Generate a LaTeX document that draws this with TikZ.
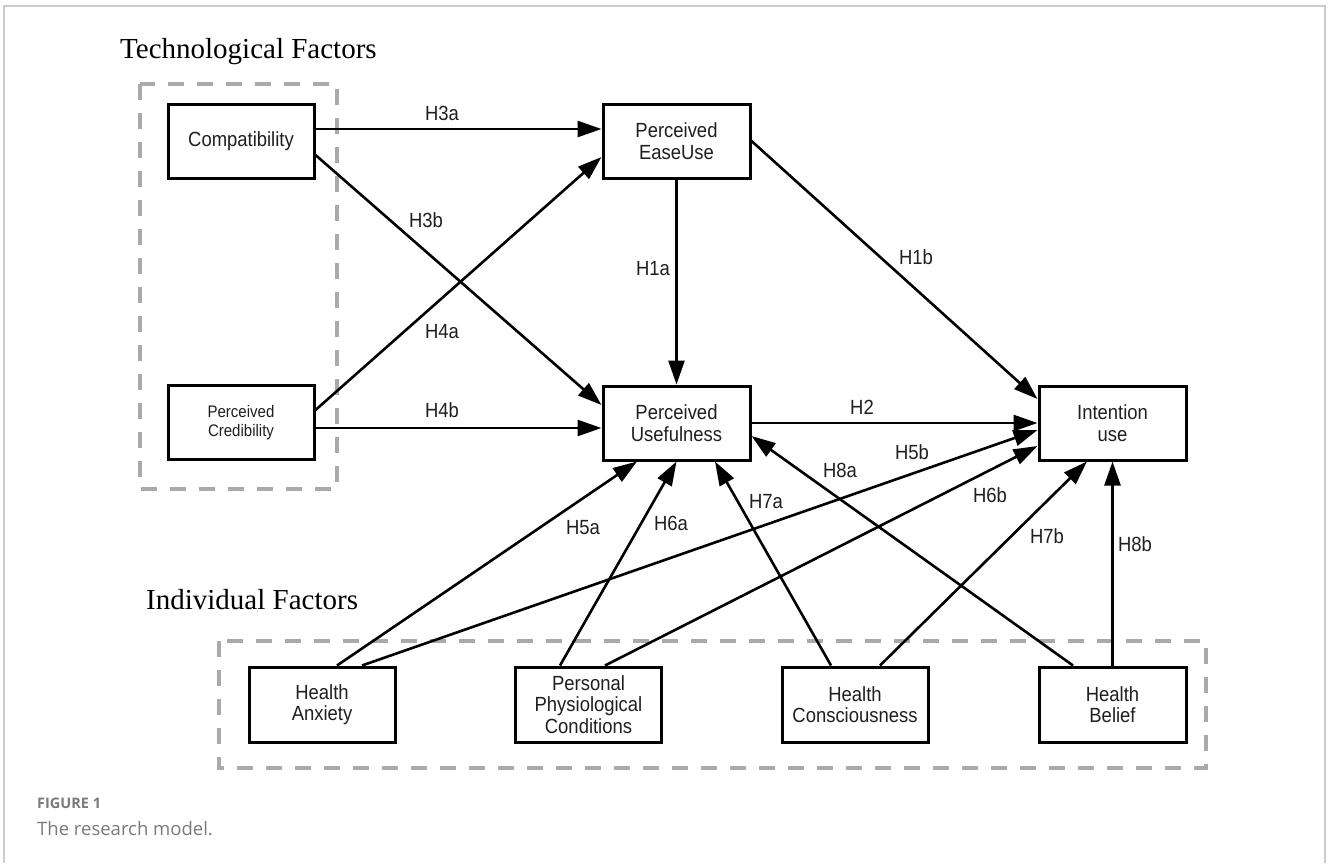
\documentclass[tikz,border=0pt]{standalone}
\usepackage{fontspec}
\setmainfont{Liberation Sans}
\newfontfamily\narrowfont[FakeStretch=0.9]{Liberation Sans}
\newfontfamily\titlefont{Liberation Serif}
\newfontfamily\capfont{Open Sans}
\usetikzlibrary{arrows.meta}
\definecolor{dashgray}{HTML}{AAAAAA}
\definecolor{framegray}{HTML}{CCCCCC}
\definecolor{capgray}{HTML}{7A7A7A}
\tikzset{
  boxnode/.style={draw=black, line width=3pt, minimum width=146pt, minimum height=74pt, inner sep=0pt, align=center, font=\narrowfont\fontsize{20.5}{21.5}\selectfont, text=black!88},
  conn/.style={line width=2.6pt, -{Triangle[length=24pt,width=16pt]}},
  hlab/.style={font=\narrowfont\fontsize{20.5}{22}\selectfont, inner sep=0pt, text=black!88},
  grouptitle/.style={font=\titlefont\fontsize{29}{32}\selectfont, anchor=west, inner sep=0pt},
  groupbox/.style={draw=dashgray, line width=4pt, dash pattern=on 16pt off 13pt}
}
\begin{document}
\begin{tikzpicture}[x=1pt,y=-1pt]
\useasboundingbox (0,0) rectangle (1328,863);
\fill[white] (0,0) rectangle (1328,863);
% outer frame
\draw[framegray, line width=1.5pt] (4,863) -- (4,6) -- (1325,6) -- (1325,863);

% group boxes
\draw[groupbox] (140,84) rectangle (337,489);
\draw[groupbox] (219,641) rectangle (1206,768);
\node[grouptitle] (ttech) at (120,52) {Technological Factors};
\node[grouptitle] (tind) at (146,600) {Individual Factors};

% nodes
\node[boxnode] (compat) at (241,141) {Compatibility};
\node[boxnode, font=\narrowfont\fontsize{16.7}{18.5}\selectfont] (cred) at (241,422.5) {Perceived\\Credibility};
\node[boxnode, minimum width=147pt] (peou) at (676.5,141) {Perceived\\EaseUse};
\node[boxnode, minimum width=147pt] (pu) at (676.5,423) {Perceived\\Usefulness};
\node[boxnode, minimum width=147pt] (iu) at (1112.5,423) {Intention\\use};
\node[boxnode, minimum height=75pt] (ha) at (322,704.5) {Health\\Anxiety};
\node[boxnode, minimum height=75pt] (ppc) at (588.5,704.5) {Personal\\Physiological\\Conditions};
\node[boxnode, minimum height=75pt] (hc) at (855,704.5) {Health\\Consciousness};
\node[boxnode, minimum height=75pt, minimum width=147pt] (hb) at (1112.5,704.5) {Health\\Belief};

% connectors
\draw[conn] ([yshift=12pt]compat.east) -- ([yshift=12pt]peou.west);
\draw[conn] ([yshift=-14pt]compat.east) -- ([yshift=18pt]pu.west);
\draw[conn] ([yshift=12.5pt]cred.east) -- ([yshift=-16pt]peou.west);
\draw[conn] ([yshift=-5.5pt]cred.east) -- ([yshift=-5pt]pu.west);
\draw[conn] (peou.south) -- (pu.north);
\draw[conn] (peou.east) -- ([yshift=24pt]iu.west);
\draw[conn] (pu.east) -- (iu.west);
\draw[conn] ([xshift=15pt]ha.north) -- ([xshift=-39.5pt]pu.south);
\draw[conn] ([xshift=40pt]ha.north) -- ([yshift=-7pt]iu.west);
\draw[conn] ([xshift=-28.5pt]ppc.north) -- (pu.south);
\draw[conn] ([xshift=16.5pt]ppc.north) -- ([yshift=-23pt]iu.west);
\draw[conn] ([xshift=-24pt]hc.north) -- ([xshift=38.5pt]pu.south);
\draw[conn] ([xshift=25pt]hc.north) -- ([xshift=-25.5pt]iu.south);
\draw[conn] ([xshift=-39.5pt]hb.north) -- ([yshift=-13pt]pu.east);
\draw[conn] (hb.north) -- (iu.south);

% labels
\node[hlab] (l3a) at (442,113) {H3a};
\node[hlab] (l3b) at (426,220) {H3b};
\node[hlab] (l4a) at (442,332) {H4a};
\node[hlab] (l4b) at (442,410) {H4b};
\node[hlab] (l1a) at (653,269) {H1a};
\node[hlab] (l1b) at (916,257) {H1b};
\node[hlab] (l2) at (862,407) {H2};
\node[hlab] (l5a) at (583,528) {H5a};
\node[hlab] (l5b) at (912,452) {H5b};
\node[hlab] (l6a) at (671,523) {H6a};
\node[hlab] (l6b) at (990,495) {H6b};
\node[hlab] (l7a) at (766,502) {H7a};
\node[hlab] (l7b) at (1047,536) {H7b};
\node[hlab] (l8a) at (840,470) {H8a};
\node[hlab] (l8b) at (1135,544) {H8b};

% caption
\node[anchor=west, inner sep=0pt, text=capgray, font=\capfont\bfseries\fontsize{14.5}{16}\selectfont] (fig) at (37,803) {FIGURE 1};
\node[anchor=west, inner sep=0pt, text=capgray, font=\capfont\fontsize{18.5}{21}\selectfont] (cap) at (37,829) {The research model.};
\end{tikzpicture}
\end{document}
